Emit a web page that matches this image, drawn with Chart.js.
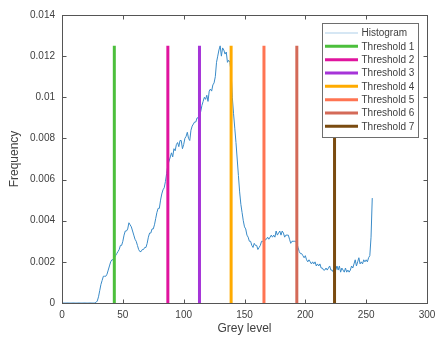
<!DOCTYPE html>
<html>
<head>
<meta charset="utf-8">
<script src="https://cdn.jsdelivr.net/npm/chart.js@4/dist/chart.umd.min.js"></script>
<style>
html,body{margin:0;padding:0;background:#fff;}
#wrap{width:438px;height:339px;}
</style>
</head>
<body>
<div id="wrap"><canvas id="c" width="438" height="339"></canvas></div>
<script>
// ---- data ----
const frequency = [
0,0,0,0,0,0,0,0,0,0,0,0,0,0,0,0,
0,0,0,0,0,0,0,0,0,0,0,0,0.00003,0.0001,0.0003,0.0006,
0.0009,0.0011,0.0013,0.0013,0.0013,0.0014,0.0016,0.0018,0.0020,0.0021,0.0021,0.0022,0.0023,0.0024,0.0025,0.0026,
0.0028,0.0028,0.0030,0.0033,0.0035,0.0035,0.0036,0.0039,0.0038,0.0037,0.0035,0.0033,0.0031,0.0030,0.0028,0.0026,
0.0025,0.0025,0.0026,0.0026,0.0027,0.0027,0.0029,0.0032,0.0034,0.0034,0.0036,0.0036,0.0038,0.0041,0.0044,0.0046,
0.0046,0.0050,0.0053,0.0055,0.0056,0.0059,0.0063,0.0067,0.0069,0.0071,0.0073,0.0071,0.0075,0.0074,0.0077,0.0078,
0.0076,0.0079,0.0079,0.0075,0.0077,0.0080,0.0081,0.0083,0.0080,0.0079,0.0084,0.0086,0.0087,0.0088,0.0088,0.0090,
0.0090,0.0091,0.0093,0.0096,0.0098,0.0100,0.0099,0.0101,0.0098,0.0103,0.0104,0.0103,0.0106,0.0107,0.0110,0.0117,
0.0120,0.0123,0.0125,0.0120,0.0124,0.0123,0.0121,0.0122,0.0117,0.0118,0.0117,0.0112,0.0100,0.0092,0.0085,0.0078,
0.0070,0.0062,0.0054,0.0048,0.0044,0.0040,0.0037,0.0036,0.0033,0.0032,0.0030,0.0030,0.0028,0.0027,0.0029,0.0028,
0.0028,0.0026,0.0027,0.0028,0.0030,0.0030,0.0029,0.0031,0.0031,0.0032,0.0031,0.0032,0.0033,0.0032,0.0033,0.0032,
0.0035,0.0033,0.0034,0.0035,0.0033,0.0035,0.0034,0.0032,0.0033,0.0033,0.0033,0.0031,0.0029,0.0030,0.0030,0.0030,
0.0030,0.0029,0.0027,0.0025,0.0024,0.0024,0.0023,0.0022,0.0023,0.0021,0.0020,0.0021,0.0020,0.0019,0.0020,0.0019,
0.0020,0.0018,0.0019,0.0018,0.0019,0.0017,0.0017,0.0016,0.0016,0.0017,0.0016,0.0017,0.0018,0.0016,0.0016,0.0015,
0.0017,0.0016,0.0018,0.0016,0.0018,0.0015,0.0017,0.0016,0.0015,0.0017,0.0015,0.0016,0.0015,0.0016,0.0018,0.0017,
0.0019,0.0021,0.0018,0.0020,0.0022,0.0019,0.0020,0.0019,0.0021,0.0020,0.0021,0.0020,0.0022,0.0023,0.0032,0.0051
];
const greyLevels = frequency.map((_, i) => i);
const thresholdLabels = ['Threshold 1','Threshold 2','Threshold 3','Threshold 4','Threshold 5','Threshold 6','Threshold 7'];
const thresholds = [43, 87, 113, 139, 166, 193, 224];
const thresholdHeight = 0.0125;
const xTickLabels = ['0','50','100','150','200','250','300'];
const yTickLabels = ['0','0.002','0.004','0.006','0.008','0.01','0.012','0.014'];

// ---- styles ----
const thresholdColors = ['#4cbf3c','#e0149e','#a634d8','#ffab00','#ff7452','#d46a58','#7a4b10'];
const histColor = '#3a8bc8';
const axisColor = '#555555';
const textColor = '#404040';
const FONT = '"Liberation Sans", Arial, sans-serif';

const datasets = [{
  label: 'Histogram',
  data: greyLevels.map((g, i) => ({x: g, y: frequency[i]})),
  borderColor: histColor,
  borderWidth: 1,
  pointRadius: 0,
  tension: 0,
  order: 1,
  legendColor: '#c9dff0',
  legendWidth: 1.5
}];
thresholds.forEach((t, i) => {
  datasets.push({
    label: thresholdLabels[i],
    data: [{x: t, y: 0}, {x: t, y: thresholdHeight}],
    borderColor: thresholdColors[i],
    borderWidth: 3,
    pointRadius: 0,
    order: 0,
    legendColor: thresholdColors[i],
    legendWidth: 3
  });
});

const matlabAxes = {
  id: 'matlabAxes',
  afterDatasetsDraw(chart) {
    const {ctx, chartArea: a, scales: {x, y}} = chart;
    ctx.save();
    ctx.strokeStyle = axisColor;
    ctx.lineWidth = 1;
    const L = Math.round(a.left) + 0.5, R = Math.round(a.right) + 0.5;
    const T = Math.round(a.top) + 0.5, B = Math.round(a.bottom) + 0.5;
    ctx.strokeRect(L, T, R - L, B - T);
    const tl = 4;
    ctx.beginPath();
    x.ticks.forEach(t => {
      const px = Math.round(x.getPixelForValue(t.value)) + 0.5;
      ctx.moveTo(px, B); ctx.lineTo(px, B - tl);
      ctx.moveTo(px, T); ctx.lineTo(px, T + tl);
    });
    y.ticks.forEach(t => {
      const py = Math.round(y.getPixelForValue(t.value)) + 0.5;
      ctx.moveTo(L, py); ctx.lineTo(L + tl, py);
      ctx.moveTo(R, py); ctx.lineTo(R - tl, py);
    });
    ctx.stroke();

    // legend box
    const bx = 322, by = 23, bw = 96, bh = 114;
    ctx.fillStyle = '#ffffff';
    ctx.fillRect(bx, by, bw, bh);
    ctx.strokeStyle = '#6e6e6e';
    ctx.strokeRect(bx + 0.5, by + 0.5, bw, bh);
    ctx.font = '10px ' + FONT;
    ctx.textBaseline = 'middle';
    ctx.textAlign = 'left';
    chart.data.datasets.forEach((ds, i) => {
      const cy = 33 + i * 13.33;
      ctx.strokeStyle = ds.legendColor;
      ctx.lineWidth = ds.legendWidth;
      ctx.beginPath();
      ctx.moveTo(325, cy); ctx.lineTo(358, cy);
      ctx.stroke();
      ctx.fillStyle = textColor;
      ctx.fillText(ds.label, 361.5, cy + 0.5);
    });
    ctx.restore();
  }
};

new Chart(document.getElementById('c'), {
  type: 'line',
  data: {datasets},
  options: {
    responsive: false,
    animation: false,
    devicePixelRatio: 1,
    layout: {padding: {top: 15, right: 11, left: 0, bottom: 0}},
    plugins: {legend: {display: false}, tooltip: {enabled: false}},
    scales: {
      x: {
        type: 'linear', min: 0, max: 300,
        grid: {display: false, drawTicks: false},
        border: {display: false},
        afterFit: s => { s.height = 36; s.paddingLeft = 0; s.paddingRight = 0; },
        ticks: {
          stepSize: 50, padding: 6, color: textColor, maxRotation: 0,
          font: {family: FONT, size: 10},
          callback: (v) => xTickLabels[Math.round(v / 50)]
        },
        title: {display: true, text: 'Grey level', color: textColor,
          font: {family: FONT, size: 12}, padding: {top: 3, bottom: 3}}
      },
      y: {
        type: 'linear', min: 0, max: 0.014,
        grid: {display: false, drawTicks: false},
        border: {display: false},
        afterFit: s => { s.width = 62; s.paddingTop = 0; s.paddingBottom = 0; },
        ticks: {
          stepSize: 0.002, padding: 7, color: textColor,
          font: {family: FONT, size: 10},
          callback: (v) => yTickLabels[Math.round(v / 0.002)]
        },
        title: {display: true, text: 'Frequency', color: textColor,
          font: {family: FONT, size: 12}, padding: {top: 7, bottom: 0}}
      }
    }
  },
  plugins: [matlabAxes]
});
</script>
</body>
</html>
